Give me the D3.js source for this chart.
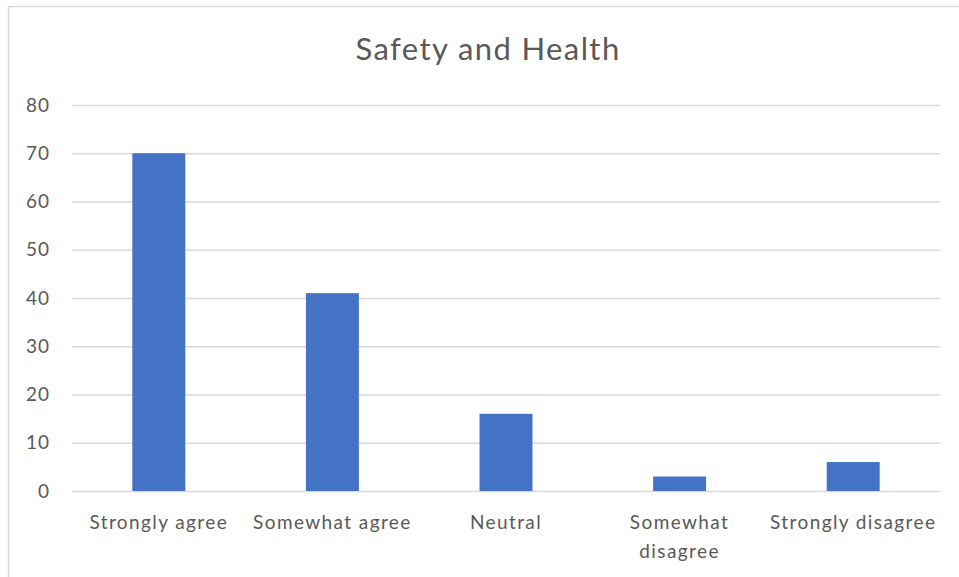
<!DOCTYPE html>
<html>
<head>
<meta charset="utf-8">
<script src="https://cdn.jsdelivr.net/npm/d3@7"></script>
<style>
  body { margin: 0; background: #fff; }
  text { font-family: Lato, 'Open Sans', sans-serif; fill: #595959; }
</style>
</head>
<body>
<div id="chart"></div>
<script>
var categories = ['Strongly agree', 'Somewhat agree', 'Neutral', 'Somewhat disagree', 'Strongly disagree'];
var values = [70, 41, 16, 3, 6];
var yTicks = [0, 10, 20, 30, 40, 50, 60, 70, 80];
var title = 'Safety and Health';

var W = 959, H = 577;
var margin = { top: 105, left: 72, bottom: 86, right: 19 },
width = W - margin.left - margin.right,
height = 491 - margin.top;

var root = d3.select('#chart').append('svg')
  .attr('width', W)
  .attr('height', H);

// chart border (runs off the right/bottom of the picture)
root.append('rect')
  .attr('x', 8.5)
  .attr('y', 6.5)
  .attr('width', W + 10)
  .attr('height', H + 10)
  .attr('fill', 'none')
  .attr('stroke', '#d9d9d9')
  .attr('stroke-width', 1.5);

root.append('text')
  .attr('x', 488)
  .attr('y', 60)
  .attr('text-anchor', 'middle')
  .style('font-size', '31px')
  .style('letter-spacing', '1.4px')
  .text(title);

var svg = root.append('g')
  .attr('transform', 'translate(' + margin.left + ',' + margin.top + ')');

var x = d3.scaleBand()
  .domain(categories)
  .range([0, width])
  .paddingInner(0.695)
  .paddingOuter(0.3475);

var y = d3.scaleLinear()
  .domain([0, 80])
  .range([height, 0]);

// gridlines + y labels
var yAxis = d3.axisLeft(y)
  .tickValues(yTicks)
  .tickSize(-width)
  .tickPadding(22)
  .tickFormat(d3.format('d'));

var gy = svg.append('g').call(yAxis);
gy.select('.domain').remove();
gy.selectAll('.tick line').attr('stroke', '#d9d9d9').attr('stroke-width', 1.3);
gy.selectAll('.tick text')
  .style('font-size', '19px')
  .style('letter-spacing', '1px')
  .attr('fill', '#595959');

// bars
svg.selectAll('.bar')
  .data(values)
  .enter()
  .append('rect')
  .attr('class', 'bar')
  .attr('x', (d, i) => x(categories[i]))
  .attr('y', d => y(d))
  .attr('width', x.bandwidth())
  .attr('height', d => height - y(d))
  .attr('fill', '#4472c4');

// x labels, wrapped when wider than the band
var step = x.step();
var labels = svg.selectAll('.name')
  .data(categories)
  .enter()
  .append('text')
  .attr('class', 'name')
  .attr('text-anchor', 'middle')
  .attr('x', d => x(d) + x.bandwidth() / 2)
  .attr('y', height + 38)
  .style('font-size', '19px')
  .style('letter-spacing', '1.4px');

labels.each(function (d) {
  var t = d3.select(this);
  t.text(d);
  if (this.getComputedTextLength() > step - 2) {
    t.text(null);
    d.split(' ').forEach((w, k) => {
      t.append('tspan')
        .attr('x', x(d) + x.bandwidth() / 2)
        .attr('dy', k ? 29 : 0)
        .text(w);
    });
  }
});
</script>
</body>
</html>
